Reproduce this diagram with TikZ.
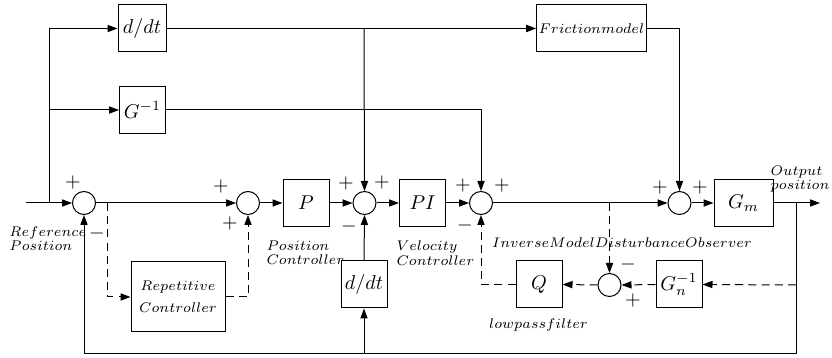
\documentclass[tikz,border=0pt]{standalone}
\usetikzlibrary{arrows.meta}
\begin{document}
\begin{tikzpicture}[x=0.5pt,y=-0.5pt,
  line width=0.5pt,
  arr/.style={-{Triangle[length=5pt,width=3.6pt]}},
  blk/.style={draw,minimum width=23pt,minimum height=23.5pt,inner sep=1pt},
  sumc/.style={draw,circle,minimum size=11.5pt,inner sep=0pt},
  sgn/.style={inner sep=0pt},
  lbl/.style={inner sep=0pt,font=\fontsize{7.3}{7.2}\selectfont},
  dsh/.style={dashed,dash pattern=on 4pt off 2.6pt}]
\useasboundingbox (0,0) rectangle (832,358);
% blocks
\node[sumc] (s1) at (84,203) {};
\node[sumc] (s2) at (248,203) {};
\node[blk] (P) at (306,203) {$P$};
\node[sumc] (s3) at (364.5,203) {};
\node[blk] (PI) at (422.5,203) {$PI$};
\node[sumc] (s4) at (481,203) {};
\node[sumc] (s5) at (679.5,203) {};
\node[blk,minimum width=29.5pt] (Gm) at (743.5,203) {$G_m$};
\node[blk,minimum width=24pt] (D1) at (142,28.5) {$d/dt$};
\node[blk] (Gi) at (142.5,110) {$G^{-1}$};
\node[blk,minimum width=52.5pt] (F) at (591.5,28.5) {\fontsize{7.3}{8.5}\selectfont$Frictionmodel$};
\node[blk,minimum width=47pt,minimum height=35pt,align=center,font=\fontsize{7.3}{11}\selectfont] (R) at (178,297) {$Repetitive$\\$Controller$};
\node[blk,minimum width=23pt] (D2) at (364,284.5) {$d/dt$};
\node[blk] (Q) at (539,284.5) {$Q$};
\node[sumc] (s6) at (609.5,285) {};
\node[blk] (Gn) at (679,284.5) {$G_n^{-1}$};
% coordinates
\coordinate (in) at (26,203);
\coordinate (j1) at (49,203);
\coordinate (jo) at (796,203);
\coordinate (out) at (820,203);
\coordinate (jb) at (796,354);
\coordinate (jd) at (364,354);
\coordinate (jr) at (107,203);
\coordinate (jq) at (609.5,203);
\coordinate (jg) at (796,285);
\coordinate (jt) at (364,28.5);
% main path
\draw[arr] (in) -- (s1);
\draw[arr] (j1) |- (D1.west);
\draw[arr] (j1 |- Gi) -- (Gi.west);
\draw[arr] (D1.east) -- (F.west);
\draw[arr] (jt) -- (s3.north);
\draw[arr] (Gi.east) -| (s4.north);
\draw[arr] (F.east) -| (s5.north);
\draw[arr] (s1) -- (s2);
\draw[arr] (s2) -- (P);
\draw[arr] (P) -- (s3);
\draw[arr] (s3) -- (PI);
\draw[arr] (PI) -- (s4);
\draw[arr] (s4) -- (s5);
\draw[arr] (s5) -- (Gm);
\draw[arr] (Gm) -- (out);
\draw[arr] (jo) -- (jb) -| (s1.south);
\draw[arr] (jd) -- (D2.south);
\draw[arr] (D2.north) -- (s3.south);
% dashed
\draw[arr,dsh] (jr) |- (R.west);
\draw[arr,dsh] (R.east) -| (s2.south);
\draw[arr,dsh] (jq) -- (s6.north);
\draw[arr,dsh] (jg) -- (Gn.east);
\draw[arr,dsh] (Gn.west) -- (s6.east);
\draw[arr,dsh] (s6.west) -- (Q.east);
\draw[arr,dsh] (Q.west) -| (s4.south);
% signs
\node[sgn] (a1) at (73,183) {$+$};
\node[sgn] (a2) at (97,234) {$-$};
\node[sgn] (b1) at (221,187) {$+$};
\node[sgn] (b2) at (230,224) {$+$};
\node[sgn] (c1) at (346,184) {$+$};
\node[sgn] (c2) at (382,183) {$+$};
\node[sgn] (c3) at (349,227) {$-$};
\node[sgn] (d1) at (463,186) {$+$};
\node[sgn] (d2) at (502,186) {$+$};
\node[sgn] (d3) at (465,226) {$-$};
\node[sgn] (e1) at (660,188) {$+$};
\node[sgn] (e2) at (700,188) {$+$};
\node[sgn] (f1) at (628,265) {$-$};
\node[sgn] (f2) at (633,301) {$+$};
% labels
\node[lbl,anchor=west,align=left] (lr) at (9,238.5) {$Reference$\\$Position$};
\node[lbl,anchor=west,align=left] (lp) at (266,253) {$Position$\\$Controller$};
\node[lbl,anchor=west,align=left] (lv) at (396,253) {$Velocity$\\$Controller$};
\node[lbl,anchor=east,align=left] (lo) at (830,179) {$Output$\\$position$};
\node[lbl] (li) at (622,243) {$InverseModelDisturbanceObserver$};
\node[lbl] (ll) at (538.5,325) {$lowpassfilter$};
\end{tikzpicture}
\end{document}
